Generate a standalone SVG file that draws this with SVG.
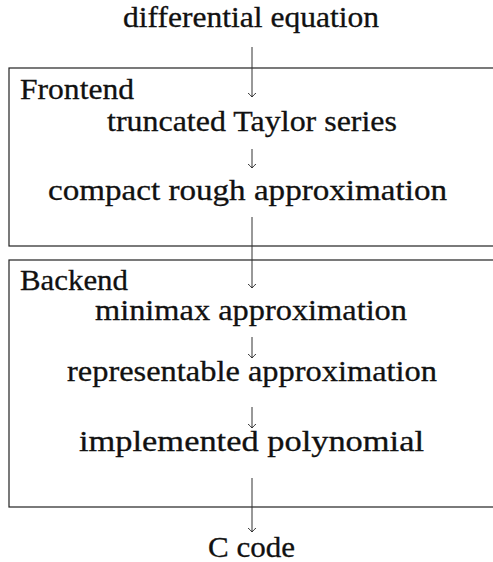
<svg xmlns="http://www.w3.org/2000/svg" width="493" height="562" viewBox="0 0 493 562">
<style>
  text { font-family: 'Liberation Serif', 'Times New Roman', Times, serif; font-size: 29px; fill: #111; stroke: #111; stroke-width: 0.3; }
  .box { fill: none; stroke: #222; stroke-width: 1.2; }
  .ln { fill: none; stroke: #333; stroke-width: 1; }
</style>
<defs>
  <marker id="tip" markerUnits="userSpaceOnUse" markerWidth="6" markerHeight="10" refX="4.5" refY="4.5" orient="auto" viewBox="0 0 6 9">
    <path d="M0.5,0.5 Q2.5,3 4.5,4.5 Q2.5,6 0.5,8.5" fill="none" stroke="#222" stroke-width="0.9"/>
  </marker>
</defs>
<rect width="493" height="562" fill="#fff"/>
<g id="frontend">
  <rect class="box" x="9" y="68" width="500" height="178"/>
  <text x="20" y="99" textLength="114" lengthAdjust="spacingAndGlyphs">Frontend</text>
</g>
<g id="backend">
  <rect class="box" x="9" y="260" width="500" height="247"/>
  <text x="20" y="290" textLength="108" lengthAdjust="spacingAndGlyphs">Backend</text>
</g>
<g id="n-diffeq">
  <text x="123" y="27" textLength="256" lengthAdjust="spacingAndGlyphs">differential equation</text>
</g>
<g id="n-taylor">
  <text x="107" y="131" textLength="290" lengthAdjust="spacingAndGlyphs">truncated Taylor series</text>
</g>
<g id="n-compact">
  <text x="48" y="200" textLength="399" lengthAdjust="spacingAndGlyphs">compact rough approximation</text>
</g>
<g id="n-minimax">
  <text x="95" y="320" textLength="312" lengthAdjust="spacingAndGlyphs">minimax approximation</text>
</g>
<g id="n-repr">
  <text x="67" y="381" textLength="370" lengthAdjust="spacingAndGlyphs">representable approximation</text>
</g>
<g id="n-impl">
  <text x="79" y="451" textLength="345" lengthAdjust="spacingAndGlyphs">implemented polynomial</text>
</g>
<g id="n-ccode">
  <text x="208" y="557" textLength="87" lengthAdjust="spacingAndGlyphs">C code</text>
</g>
<g id="connectors">
  <line class="ln" x1="252" y1="47" x2="252" y2="97" marker-end="url(#tip)"/>
  <line class="ln" x1="252" y1="149" x2="252" y2="168" marker-end="url(#tip)"/>
  <line class="ln" x1="252" y1="217" x2="252" y2="288" marker-end="url(#tip)"/>
  <line class="ln" x1="252" y1="337" x2="252" y2="358" marker-end="url(#tip)"/>
  <line class="ln" x1="252" y1="407" x2="252" y2="428" marker-end="url(#tip)"/>
  <line class="ln" x1="252" y1="478" x2="252" y2="532" marker-end="url(#tip)"/>
</g>
</svg>
